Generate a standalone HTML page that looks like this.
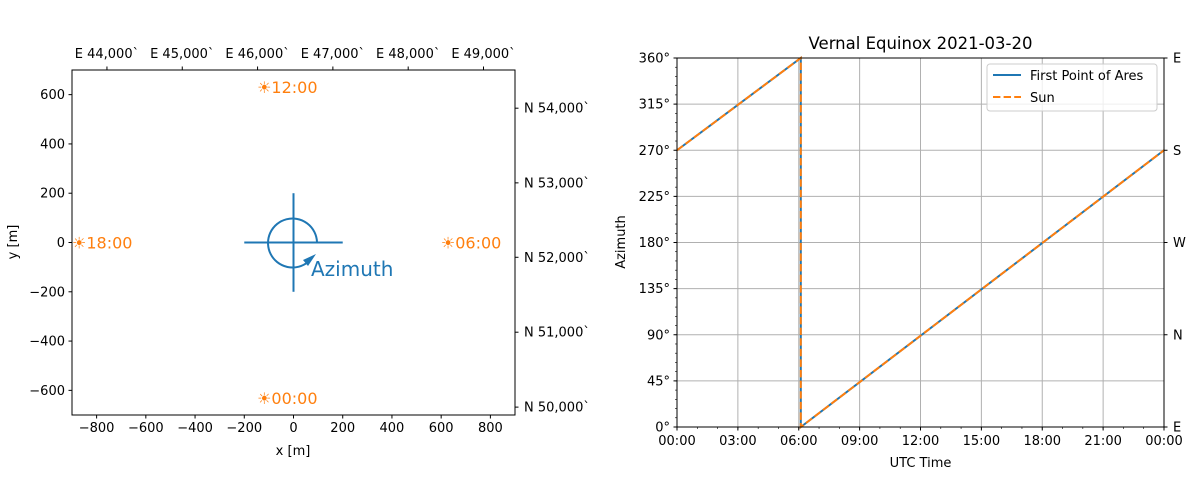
<!DOCTYPE html>
<html><head><meta charset="utf-8"><style>
body{margin:0;background:#fff;}
svg{display:block;font-family:"DejaVu Sans","Liberation Sans",sans-serif;}
</style></head><body>
<svg id="fig" width="1200" height="480" viewBox="0 0 1200 480" xmlns="http://www.w3.org/2000/svg">
<g id="left"></g>
<g id="right"></g>
</svg>
<script>
const NS="http://www.w3.org/2000/svg";
// ---- Left panel data ----
const xTicks=[-800,-600,-400,-200,0,200,400,600,800];
const yTicks=[-600,-400,-200,0,200,400,600];
const topTickLabels=["E 44,000`","E 45,000`","E 46,000`","E 47,000`","E 48,000`","E 49,000`"];
const topTickVals=[-758,-452,-146,160,466,772];
const rightTickLabels=["N 54,000`","N 53,000`","N 52,000`","N 51,000`","N 50,000`"];
const rightTickVals=[545,242,-60,-364,-668];
const sunLabels=["☀12:00","☀18:00","☀06:00","☀00:00"];
const sunX=[-148,-900,599,-148];
const sunY=[631,0,0,-630];
// ---- Right panel data ----
const azTicks=[0,45,90,135,180,225,270,315,360];
const azTickLabels=["0°","45°","90°","135°","180°","225°","270°","315°","360°"];
const hourTicks=[0,3,6,9,12,15,18,21,24];
const hourTickLabels=["00:00","03:00","06:00","09:00","12:00","15:00","18:00","21:00","00:00"];
const compassVals=[0,90,180,270,360];
const compassLabels=["E","N","W","S","E"];
const ariesT=[0,6.1,6.1,24];
const ariesAz=[270,360,0,270];
const sunT=[0,6.1,6.1,24];
const sunAz=[270,360,0,270];

function el(parent,tag,attrs,text){const e=document.createElementNS(NS,tag);for(const k in attrs)e.setAttribute(k,attrs[k]);if(text!==undefined)e.textContent=text;parent.appendChild(e);return e;}

// Left
const L=document.getElementById('left');
const lx=v=>72+(v+900)/1800*443;
const ly=v=>70+(700-v)/1400*345;
el(L,'rect',{x:72,y:70,width:443,height:345,fill:'#fff',stroke:'#000','stroke-width':1});
xTicks.forEach(v=>{const x=lx(v);el(L,'line',{x1:x,x2:x,y1:415,y2:418.5,stroke:'#000'});
 const t=el(L,'text',{x:x,y:432,'font-size':13,'text-anchor':'middle'},(v<0?'−':'')+Math.abs(v));
 });
yTicks.forEach(v=>{const y=ly(v);el(L,'line',{x1:68.5,x2:72,y1:y,y2:y,stroke:'#000'});
 const t=el(L,'text',{x:65,y:y+4.5,'font-size':13,'text-anchor':'end'},(v<0?'−':'')+Math.abs(v));
 });
topTickVals.forEach((v,i)=>{const x=lx(v);el(L,'line',{x1:x,x2:x,y1:66.5,y2:70,stroke:'#000'});
 const t=el(L,'text',{x:x,y:58,'font-size':13,'text-anchor':'middle'},topTickLabels[i]);
 });
rightTickVals.forEach((v,i)=>{const y=ly(v);el(L,'line',{x1:515,x2:518.5,y1:y,y2:y,stroke:'#000'});
 const t=el(L,'text',{x:524,y:y+4.5,'font-size':13},rightTickLabels[i]);
 });
let t=el(L,'text',{x:293,y:455,'font-size':13,'text-anchor':'middle'},'x [m]');

t=el(L,'text',{x:17,y:242,'font-size':13,'text-anchor':'middle',transform:'rotate(-90 17 242)'},'y [m]');

sunLabels.forEach((s,i)=>{const t=el(L,'text',{x:lx(sunX[i]),y:ly(sunY[i])+6,'font-size':16,fill:'#ff7f0e'},s);
 });
const C='#1f77b4';
el(L,'line',{x1:lx(-200),x2:lx(200),y1:ly(0),y2:ly(0),stroke:C,'stroke-width':2});
el(L,'line',{x1:lx(0),x2:lx(0),y1:ly(200),y2:ly(-200),stroke:C,'stroke-width':2});
el(L,'path',{d:'M 317 242 A 24.5 24.5 0 1 0 308 262',fill:'none',stroke:C,'stroke-width':2});
el(L,'polygon',{points:'316,254 303,260 308,266',fill:C});
t=el(L,'text',{x:311,y:276,'font-size':20,fill:C},'Azimuth');


// Right
const R=document.getElementById('right');
const X0=677,X1=1164,Y0=58,Y1=427;
const rx=h=>X0+h/24*(X1-X0);
const ry=a=>Y1-a/360*(Y1-Y0);
el(R,'rect',{x:X0,y:Y0,width:X1-X0,height:Y1-Y0,fill:'#fff'});
hourTicks.forEach(h=>el(R,'line',{x1:rx(h),x2:rx(h),y1:Y0,y2:Y1,stroke:'#b0b0b0','stroke-width':1}));
azTicks.forEach(a=>el(R,'line',{x1:X0,x2:X1,y1:ry(a),y2:ry(a),stroke:'#b0b0b0','stroke-width':1}));
for(let h=0;h<=24;h++)el(R,'line',{x1:rx(h),x2:rx(h),y1:Y1,y2:Y1+2,stroke:'#000','stroke-width':0.6});
for(let a=0;a<=360;a+=9)el(R,'line',{x1:X0-2,x2:X0,y1:ry(a),y2:ry(a),stroke:'#000','stroke-width':0.6});
hourTicks.forEach((h,i)=>{el(R,'line',{x1:rx(h),x2:rx(h),y1:Y1,y2:Y1+3.5,stroke:'#000'});
 const t=el(R,'text',{x:rx(h),y:Y1+18,'font-size':13,'text-anchor':'middle'},hourTickLabels[i]);
 });
azTicks.forEach((a,i)=>{el(R,'line',{x1:X0-3.5,x2:X0,y1:ry(a),y2:ry(a),stroke:'#000'});
 const t=el(R,'text',{x:X0-7,y:ry(a)+4.5,'font-size':13,'text-anchor':'end'},azTickLabels[i]);
 });
compassVals.forEach((a,i)=>{el(R,'line',{x1:X1,x2:X1+3.5,y1:ry(a),y2:ry(a),stroke:'#000'});
 const t=el(R,'text',{x:X1+9,y:ry(a)+4.5,'font-size':13},compassLabels[i]);
 });
const p1=el(R,'polyline',{points:ariesT.map((h,i)=>rx(h)+','+ry(ariesAz[i])).join(' '),fill:'none',stroke:C,'stroke-width':2});

const p2=el(R,'polyline',{points:sunT.map((h,i)=>rx(h)+','+ry(sunAz[i])).join(' '),fill:'none',stroke:'#ff7f0e','stroke-width':2,'stroke-dasharray':'7.4,3.2'});

el(R,'rect',{x:X0,y:Y0,width:X1-X0,height:Y1-Y0,fill:'none',stroke:'#000','stroke-width':1});
t=el(R,'text',{x:(X0+X1)/2,y:49,'font-size':16.5,'text-anchor':'middle'},'Vernal Equinox 2021-03-20');

t=el(R,'text',{x:(X0+X1)/2,y:467,'font-size':13,'text-anchor':'middle'},'UTC Time');

t=el(R,'text',{x:625,y:242,'font-size':13,'text-anchor':'middle',transform:'rotate(-90 625 242)'},'Azimuth');

const lg=el(R,'g',{});

el(lg,'rect',{x:987,y:64,width:170,height:47,rx:3,fill:'#fff',stroke:'#ccc','fill-opacity':0.8});
el(lg,'line',{x1:993,x2:1021,y1:75,y2:75,stroke:C,'stroke-width':2});
el(lg,'line',{x1:993,x2:1021,y1:97,y2:97,stroke:'#ff7f0e','stroke-width':2,'stroke-dasharray':'7.4,3.2'});
t=el(lg,'text',{x:1030,y:80,'font-size':13},'First Point of Ares');

t=el(lg,'text',{x:1030,y:102,'font-size':13},'Sun');

</script>
</body></html>
